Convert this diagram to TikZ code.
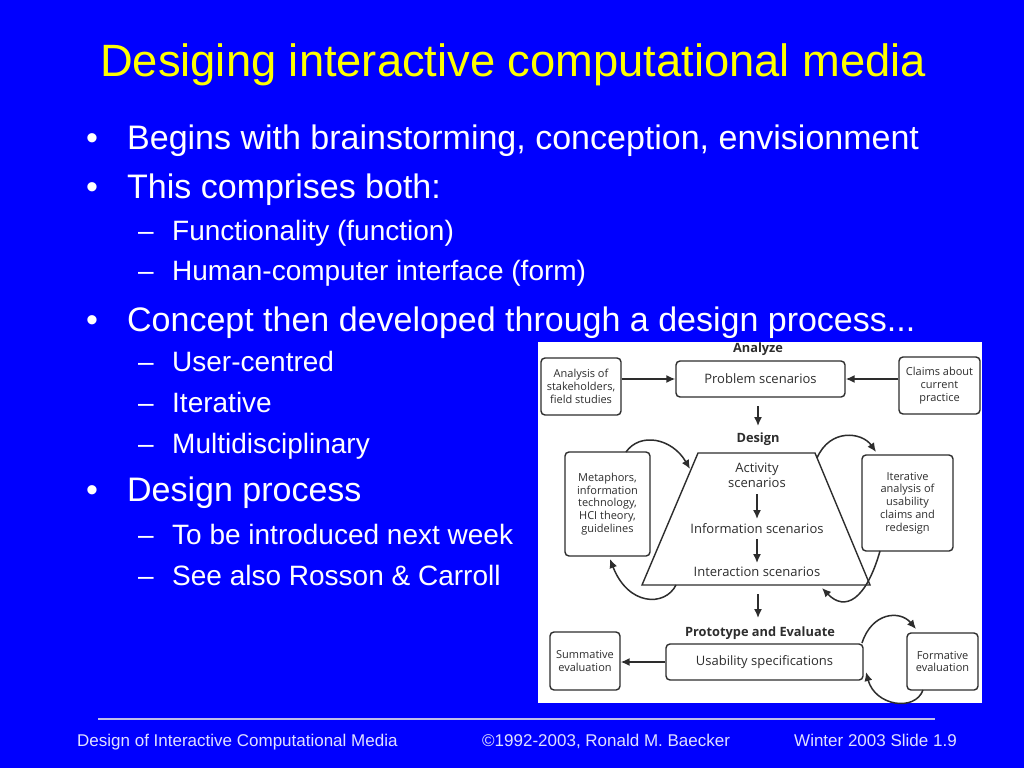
\documentclass[tikz,border=0pt]{standalone}
\usepackage{fontspec}
\setmainfont{Liberation Sans}
\newfontfamily\diagfont{Open Sans}
\usetikzlibrary{arrows.meta}
\definecolor{slideblue}{RGB}{0,0,255}
\definecolor{titleyellow}{RGB}{255,255,0}
\definecolor{ink}{RGB}{45,45,45}
\definecolor{footcol}{RGB}{225,225,255}
\definecolor{rulecol}{RGB}{190,190,235}
\begin{document}
\begin{tikzpicture}[x=1pt,y=-1pt,
  titletxt/.style={anchor=base west,inner sep=0,text=titleyellow,font=\fontsize{45.3}{54}\selectfont},
  bul/.style={anchor=base west,inner sep=0,text=white,font=\fontsize{34}{40}\selectfont},
  subbul/.style={anchor=base west,inner sep=0,text=white,font=\fontsize{28}{34}\selectfont},
  foot/.style={anchor=base west,inner sep=0,text=footcol,font=\fontsize{17}{20}\selectfont},
  box/.style={draw=ink,line width=1.4pt,rounded corners=4pt,inner sep=0,align=center,text=ink,font=\diagfont\fontsize{11}{12.8}\selectfont},
  bigbox/.style={box,font=\diagfont\fontsize{13}{15}\selectfont},
  lbl/.style={inner sep=0,text=ink,align=center,font=\diagfont\fontsize{13}{15}\selectfont},
  hdr/.style={inner sep=0,text=ink,font=\diagfont\bfseries\fontsize{12.8}{14}\selectfont},
  arr/.style={draw=ink,line width=1.5pt,-{Latex[length=9pt,width=8pt]}},
]
\fill[slideblue] (0,0) rectangle (1024,768);
\useasboundingbox (0,0) rectangle (1024,768);

% title
\node[titletxt] (title) at (100,76) {Desiging interactive computational media};

% bullets
\node[bul] (d1) at (86,149) {•};
\node[bul] (b1) at (127,149) {Begins with brainstorming, conception, envisionment};
\node[bul] (d2) at (86,198) {•};
\node[bul] (b2) at (127,198) {This comprises both:};
\node[subbul] (e1) at (138,240) {–};
\node[subbul] (s1) at (172,240) {Functionality (function)};
\node[subbul] (e2) at (138,280) {–};
\node[subbul] (s2) at (172,280) {Human-computer interface (form)};
\node[bul] (d3) at (86,331) {•};
\node[bul] (b3) at (127,331) {Concept then developed through a design process...};
\node[subbul] (e3) at (138,371) {–};
\node[subbul] (s3) at (172,371) {User-centred};
\node[subbul] (e4) at (138,412) {–};
\node[subbul] (s4) at (172,412) {Iterative};
\node[subbul] (e5) at (138,453) {–};
\node[subbul] (s5) at (172,453) {Multidisciplinary};
\node[bul] (d4) at (86,501) {•};
\node[bul] (b4) at (127,501) {Design process};
\node[subbul] (e6) at (138,544) {–};
\node[subbul] (s6) at (172,544) {To be introduced next week};
\node[subbul] (e7) at (138,585) {–};
\node[subbul] (s7) at (172,585) {See also Rosson \& Carroll};

% diagram panel
\fill[white] (538,342) rectangle (982,703);

\node[hdr] (analyze) at (758,349) {Analyze};
\node[box,minimum width=80pt,minimum height=57pt] (anl) at (581,386.5) {Analysis of\\stakeholders,\\field studies};
\node[bigbox,minimum width=169pt,minimum height=36pt] (prob) at (760.5,379) {Problem scenarios};
\node[box,minimum width=81pt,minimum height=57pt] (claims) at (939.5,385.5) {Claims about\\current\\practice};
\draw[arr] (anl.east |- prob.west) -- (prob.west);
\draw[arr] (claims.west |- prob.east) -- (prob.east);

\coordinate (a1s) at (758,406);
\coordinate (a1e) at (758,426);
\draw[arr] (a1s) -- (a1e);

\node[hdr] (design) at (758,439) {Design};
\coordinate (tl) at (698,453);
\coordinate (tr) at (815,453);
\coordinate (br) at (870,585);
\coordinate (bl) at (642,585);
\draw[ink,line width=1.4pt] (tl) -- (tr) -- (br) -- (bl) -- cycle;

\node[lbl] (act) at (757,475) {Activity\\scenarios};
\node[lbl] (info) at (757,529) {Information scenarios};
\node[lbl] (inter) at (757,572) {Interaction scenarios};
\coordinate (a2s) at (757,494);
\coordinate (a2e) at (757,519);
\draw[arr] (a2s) -- (a2e);
\coordinate (a3s) at (757,539);
\coordinate (a3e) at (757,563);
\draw[arr] (a3s) -- (a3e);

\node[box,minimum width=85pt,minimum height=104pt] (meta) at (607.5,504) {Metaphors,\\information\\technology,\\HCI theory,\\guidelines};
\node[box,minimum width=91pt,minimum height=96pt] (iter) at (907.5,503) {Iterative\\analysis of\\usability\\claims and\\redesign};

\coordinate (m1s) at (626,452);
\coordinate (m1e) at (690,469);
\draw[arr] (m1s) .. controls (640,432) and (672,438) .. (m1e);
\coordinate (m2s) at (676,585);
\coordinate (m2e) at (610,559);
\draw[arr] (m2s) .. controls (665,607) and (628,606) .. (m2e);
\coordinate (i1s) at (817,458);
\coordinate (i1e) at (876,452);
\draw[arr] (i1s) .. controls (830,428) and (862,432) .. (i1e);
\coordinate (i2s) at (880,551);
\coordinate (i2e) at (822,588);
\draw[arr] (i2s) .. controls (866,600) and (845,612) .. (i2e);

\coordinate (a4s) at (758,594);
\coordinate (a4e) at (758,618);
\draw[arr] (a4s) -- (a4e);

\node[hdr] (proto) at (760,633) {Prototype and Evaluate};
\node[bigbox,minimum width=197pt,minimum height=36pt] (usab) at (764.5,662) {Usability specifications};
\node[box,minimum width=70pt,minimum height=58pt] (summ) at (585,661) {Summative\\evaluation};
\node[box,minimum width=71pt,minimum height=57pt] (form) at (942.5,661.5) {Formative\\evaluation};
\draw[arr] (usab.west) -- (summ.east |- usab.west);

\coordinate (f1s) at (862,643);
\coordinate (f1e) at (916,629);
\draw[arr] (f1s) .. controls (872,612) and (900,610) .. (f1e);
\coordinate (f2s) at (923,690);
\coordinate (f2e) at (866,672);
\draw[arr] (f2s) .. controls (915,712) and (875,706) .. (f2e);

% footer
\coordinate (r1) at (98,719);
\coordinate (r2) at (935,719);
\draw[rulecol,line width=1.5pt] (r1) -- (r2);
\node[foot] (f1) at (77,746) {Design of Interactive Computational Media};
\node[foot] (f2) at (482,746) {©1992-2003, Ronald M. Baecker};
\node[foot] (f3) at (794,746) {Winter 2003 Slide 1.9};
\end{tikzpicture}
\end{document}
